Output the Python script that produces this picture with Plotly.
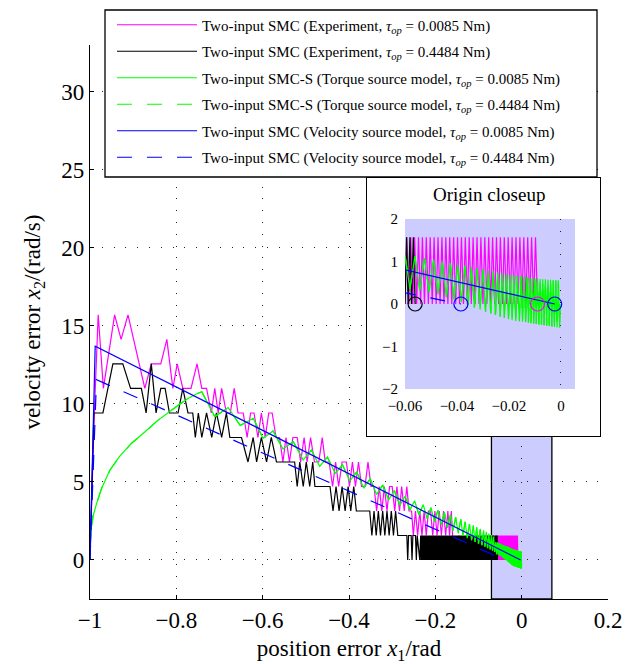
import plotly.graph_objects as go

# ---------------- data ----------------
# Experiment, tau_op = 0.0085 Nm  (magenta)
MAGENTA = [
    (-1.000, 0.00), (-0.990, 9.42), (-0.981, 15.71), (-0.969, 11.00), (-0.943, 15.71), (-0.928, 14.14),
    (-0.912, 15.71), (-0.873, 11.00), (-0.858, 12.57), (-0.836, 12.57), (-0.822, 14.14), (-0.808, 11.00),
    (-0.798, 12.57), (-0.785, 11.00), (-0.766, 11.00), (-0.752, 12.57), (-0.741, 11.00),
    (-0.730, 11.00), (-0.719, 9.42), (-0.711, 11.00), (-0.703, 9.42), (-0.695, 11.00), (-0.684, 9.42),
    (-0.675, 9.42), (-0.666, 11.00), (-0.657, 9.42),
    (-0.645, 9.42), (-0.636, 7.85), (-0.628, 9.42), (-0.620, 9.42), (-0.611, 7.85), (-0.603, 9.42),
    (-0.594, 7.85), (-0.586, 9.42), (-0.578, 9.42), (-0.569, 7.85), (-0.561, 7.85),
    (-0.553, 6.28), (-0.546, 7.85), (-0.538, 6.28), (-0.530, 7.85), (-0.520, 7.85), (-0.512, 6.28),
    (-0.504, 7.85), (-0.497, 6.28), (-0.489, 7.85), (-0.480, 6.28), (-0.470, 6.28), (-0.462, 7.85), (-0.455, 6.28),
    (-0.446, 6.28), (-0.438, 4.71), (-0.431, 6.28), (-0.424, 4.71), (-0.416, 6.28), (-0.406, 6.28),
    (-0.399, 4.71), (-0.392, 6.28), (-0.385, 4.71), (-0.378, 6.28), (-0.371, 4.71), (-0.363, 4.71),
    (-0.356, 6.28), (-0.349, 4.71), (-0.342, 4.71),
    (-0.336, 3.14), (-0.330, 4.71), (-0.324, 3.14), (-0.318, 4.71), (-0.312, 3.14), (-0.306, 4.71),
    (-0.300, 4.71), (-0.294, 3.14), (-0.289, 4.71), (-0.283, 3.14), (-0.278, 4.71), (-0.272, 3.14),
    (-0.266, 4.71), (-0.261, 3.14), (-0.255, 3.14),
    (-0.251, 1.57), (-0.246, 3.14), (-0.241, 1.57), (-0.236, 3.14), (-0.231, 1.57), (-0.226, 3.14),
    (-0.221, 1.57), (-0.216, 3.14), (-0.211, 3.14), (-0.206, 1.57), (-0.201, 3.14), (-0.196, 1.57),
    (-0.191, 3.14), (-0.186, 1.57), (-0.181, 3.14), (-0.176, 1.57), (-0.171, 3.14), (-0.167, 1.57),
    (-0.163, 3.14), (-0.160, 1.57),
    (-0.155, 0.00), (-0.145, 1.57), (-0.135, 0.00), (-0.125, 1.57), (-0.115, 0.00), (-0.105, 1.57),
    (-0.095, 0.00), (-0.085, 1.57), (-0.075, 0.00), (-0.065, 1.57),
    (-0.0600, 0), (-0.0593, 1.57), (-0.0585, 0), (-0.0578, 1.57), (-0.0570, 0), (-0.0563, 1.57),
    (-0.0555, 0), (-0.0548, 1.57), (-0.0540, 0), (-0.0533, 1.57), (-0.0525, 0), (-0.0518, 1.57),
    (-0.0510, 0), (-0.0503, 1.57), (-0.0495, 0), (-0.0488, 1.57), (-0.0480, 0), (-0.0473, 1.57),
    (-0.0465, 0), (-0.0458, 1.57), (-0.0450, 0), (-0.0443, 1.57), (-0.0435, 0), (-0.0428, 1.57),
    (-0.0420, 0), (-0.0413, 1.57), (-0.0405, 0), (-0.0398, 1.57), (-0.0390, 0), (-0.0383, 1.57),
    (-0.0375, 0), (-0.0368, 1.57), (-0.0360, 0), (-0.0353, 1.57), (-0.0345, 0), (-0.0338, 1.57),
    (-0.0330, 0), (-0.0323, 1.57), (-0.0315, 0), (-0.0308, 1.57), (-0.0300, 0), (-0.0293, 1.57),
    (-0.0285, 0), (-0.0278, 1.57), (-0.0270, 0), (-0.0263, 1.57), (-0.0255, 0), (-0.0248, 1.57),
    (-0.0240, 0), (-0.0233, 1.57), (-0.0225, 0), (-0.0218, 1.57), (-0.0210, 0), (-0.0203, 1.57),
    (-0.0195, 0), (-0.0188, 1.57), (-0.0180, 0), (-0.0173, 1.57), (-0.0165, 0), (-0.0158, 1.57),
    (-0.0150, 0), (-0.0143, 1.57), (-0.0135, 0), (-0.0128, 1.57), (-0.0120, 0), (-0.0113, 1.57),
    (-0.0105, 0), (-0.0098, 1.57), (-0.0090, 0),
]

# Experiment, tau_op = 0.4484 Nm  (black): coarse part, dense chatter block, final teeth
BLACK_HEAD = [
    (-1.000, 0.00), (-0.991, 9.42), (-0.970, 9.42), (-0.947, 12.57), (-0.924, 12.57), (-0.906, 11.00),
    (-0.881, 11.00), (-0.870, 9.42), (-0.858, 12.57), (-0.847, 9.42), (-0.836, 11.00), (-0.826, 11.00),
    (-0.816, 9.42), (-0.796, 9.42), (-0.785, 11.00), (-0.773, 9.42), (-0.762, 9.42),
    (-0.756, 7.85), (-0.749, 9.42), (-0.741, 7.85), (-0.730, 9.42), (-0.718, 7.85), (-0.707, 9.42),
    (-0.695, 7.85), (-0.684, 9.42), (-0.676, 7.85), (-0.649, 7.85),
    (-0.634, 6.28), (-0.622, 7.85), (-0.614, 6.28), (-0.603, 7.85), (-0.591, 6.28), (-0.580, 7.85),
    (-0.568, 6.28), (-0.526, 6.28),
    (-0.520, 4.71), (-0.514, 6.28), (-0.506, 4.71), (-0.499, 6.28), (-0.491, 4.71), (-0.484, 6.28),
    (-0.479, 4.71), (-0.444, 4.71),
    (-0.437, 3.14), (-0.430, 4.71), (-0.423, 3.14), (-0.416, 4.71), (-0.409, 3.14), (-0.402, 4.71),
    (-0.396, 3.14), (-0.389, 4.71), (-0.383, 3.14), (-0.352, 3.14),
    (-0.347, 1.57), (-0.342, 3.14), (-0.337, 1.57), (-0.332, 3.14), (-0.327, 1.57), (-0.322, 3.14),
    (-0.317, 1.57), (-0.312, 3.14), (-0.307, 1.57), (-0.302, 3.14), (-0.297, 1.57), (-0.292, 3.14),
    (-0.287, 1.57), (-0.266, 1.57),
    (-0.264, 0.00), (-0.262, 1.57), (-0.256, 1.57), (-0.254, 0.00), (-0.252, 1.57), (-0.246, 1.57),
    (-0.244, 0.00), (-0.242, 1.57), (-0.236, 0.00),
]
BLACK_BLOCK_X = [
    -0.23400, -0.23275, -0.23150, -0.23025, -0.22900, -0.22775, -0.22650, -0.22525,
    -0.22400, -0.22275, -0.22150, -0.22025, -0.21900, -0.21775, -0.21650, -0.21525,
    -0.21400, -0.21275, -0.21150, -0.21025, -0.20900, -0.20775, -0.20650, -0.20525,
    -0.20400, -0.20275, -0.20150, -0.20025, -0.19900, -0.19775, -0.19650, -0.19525,
    -0.19400, -0.19275, -0.19150, -0.19025, -0.18900, -0.18775, -0.18650, -0.18525,
    -0.18400, -0.18275, -0.18150, -0.18025, -0.17900, -0.17775, -0.17650, -0.17525,
    -0.17400, -0.17275, -0.17150, -0.17025, -0.16900, -0.16775, -0.16650, -0.16525,
    -0.16400, -0.16275, -0.16150, -0.16025, -0.15900, -0.15775, -0.15650, -0.15525,
    -0.15400, -0.15275, -0.15150, -0.15025, -0.14900, -0.14775, -0.14650, -0.14525,
    -0.14400, -0.14275, -0.14150, -0.14025, -0.13900, -0.13775, -0.13650, -0.13525,
    -0.13400, -0.13275, -0.13150, -0.13025, -0.12900, -0.12775, -0.12650, -0.12525,
    -0.12400, -0.12275, -0.12150, -0.12025, -0.11900, -0.11775, -0.11650, -0.11525,
    -0.11400, -0.11275, -0.11150, -0.11025, -0.10900, -0.10775, -0.10650, -0.10525,
    -0.10400, -0.10275, -0.10150, -0.10025, -0.09900, -0.09775, -0.09650, -0.09525,
    -0.09400, -0.09275, -0.09150, -0.09025, -0.08900, -0.08775, -0.08650, -0.08525,
    -0.08400, -0.08275, -0.08150, -0.08025, -0.07900, -0.07775, -0.07650, -0.07525,
    -0.07400, -0.07275, -0.07150, -0.07025, -0.06900, -0.06775, -0.06650, -0.06525,
    -0.06400, -0.06275,
]
BLACK_BLOCK_Y = [
    1.57, 0, 1.57, 0, 1.57, 0, 1.57, 0,
    1.57, 0, 1.57, 0, 1.57, 0, 1.57, 0,
    1.57, 0, 1.57, 0, 1.57, 0, 1.57, 0,
    1.57, 0, 1.57, 0, 1.57, 0, 1.57, 0,
    1.57, 0, 1.57, 0, 1.57, 0, 1.57, 0,
    1.57, 0, 1.57, 0, 1.57, 0, 1.57, 0,
    1.57, 0, 1.57, 0, 1.57, 0, 1.57, 0,
    1.57, 0, 1.57, 0, 1.57, 0, 1.57, 0,
    1.57, 0, 1.57, 0, 1.57, 0, 1.57, 0,
    1.57, 0, 1.57, 0, 1.57, 0, 1.57, 0,
    1.57, 0, 1.57, 0, 1.57, 0, 1.57, 0,
    1.57, 0, 1.57, 0, 1.57, 0, 1.57, 0,
    1.57, 0, 1.57, 0, 1.57, 0, 1.57, 0,
    1.57, 0, 1.57, 0, 1.57, 0, 1.57, 0,
    1.57, 0, 1.57, 0, 1.57, 0, 1.57, 0,
    1.57, 0, 1.57, 0, 1.57, 0, 1.57, 0,
    1.57, 0, 1.57, 0, 1.57, 0, 1.57, 0,
    1.57, 0,
]
BLACK_TAIL = [
    (-0.0607, 1.57), (-0.0600, 0), (-0.0594, 1.57), (-0.0588, 0), (-0.0581, 1.57), (-0.0575, 0),
    (-0.0568, 1.57), (-0.0561, 0),
]
BLACK = BLACK_HEAD + list(zip(BLACK_BLOCK_X, BLACK_BLOCK_Y)) + BLACK_TAIL

# Torque source model (green)
GREEN = [
    (-1.000, 0.00), (-0.9995, 1.00), (-0.997, 2.10), (-0.992, 2.90), (-0.985, 3.60), (-0.973, 4.60),
    (-0.954, 5.75), (-0.931, 6.65), (-0.903, 7.50), (-0.873, 8.20), (-0.845, 8.90), (-0.816, 9.50),
    (-0.794, 9.95), (-0.773, 10.35), (-0.755, 10.62), (-0.741, 10.78),
    (-0.711, 9.19), (-0.680, 9.77), (-0.652, 8.62), (-0.622, 9.08), (-0.599, 7.80), (-0.576, 8.27),
    (-0.553, 7.12), (-0.529, 7.58), (-0.506, 6.41), (-0.487, 7.05), (-0.468, 6.00), (-0.450, 6.60),
    (-0.432, 5.55), (-0.415, 6.10), (-0.398, 5.05), (-0.382, 5.65), (-0.366, 4.60), (-0.351, 5.20),
    (-0.336, 4.20), (-0.322, 4.80), (-0.308, 3.85), (-0.295, 4.45), (-0.282, 3.50), (-0.270, 4.10),
    (-0.259, 3.20), (-0.248, 3.80), (-0.238, 2.90), (-0.228, 3.55), (-0.219, 2.65), (-0.210, 3.35),
    (-0.202, 2.45), (-0.194, 3.20), (-0.186, 2.25), (-0.179, 3.05), (-0.172, 2.05), (-0.165, 2.90),
    (-0.159, 1.85), (-0.153, 2.75), (-0.147, 1.70), (-0.141, 2.60), (-0.136, 1.55), (-0.131, 2.45),
    (-0.126, 1.40), (-0.121, 2.30), (-0.116, 1.25), (-0.112, 2.20), (-0.108, 1.15), (-0.104, 2.10),
    (-0.100, 1.05), (-0.096, 2.00), (-0.092, 0.95), (-0.088, 1.90), (-0.085, 0.85), (-0.082, 1.80),
    (-0.079, 0.75), (-0.076, 1.70), (-0.073, 0.68), (-0.070, 1.60), (-0.0675, 0.60), (-0.065, 1.50),
    (-0.0625, 0.52),
    (-0.0600, 1.15), (-0.0581, 0.35), (-0.0562, 1.12), (-0.0543, 0.32), (-0.0525, 1.08), (-0.0507, 0.28),
    (-0.0490, 1.04), (-0.0473, 0.22), (-0.0457, 1.00), (-0.0441, 0.16), (-0.0426, 0.96), (-0.0411, 0.10),
    (-0.0397, 0.93), (-0.0383, 0.04), (-0.0370, 0.90), (-0.0357, -0.02), (-0.0345, 0.87), (-0.0333, -0.08),
    (-0.0322, 0.84), (-0.0311, -0.13), (-0.0300, 0.81), (-0.0290, -0.18), (-0.0280, 0.79), (-0.0270, -0.22),
    (-0.0261, 0.77), (-0.0252, -0.26), (-0.0243, 0.74), (-0.0234, -0.30), (-0.0226, 0.72), (-0.0218, -0.33),
    (-0.0210, 0.70), (-0.0202, -0.36), (-0.0195, 0.68), (-0.0188, -0.38), (-0.0181, 0.67), (-0.0174, -0.40),
    (-0.0167, 0.66), (-0.0160, -0.41), (-0.0154, 0.65), (-0.0148, -0.42), (-0.0142, 0.64), (-0.0136, -0.43),
    (-0.0130, 0.63), (-0.0125, -0.44), (-0.0120, 0.62), (-0.0115, -0.45), (-0.0110, 0.61), (-0.0105, -0.46),
    (-0.0100, 0.60), (-0.0095, -0.47), (-0.0090, 0.60), (-0.0085, -0.48), (-0.0080, 0.59), (-0.0075, -0.49),
    (-0.0070, 0.58), (-0.0065, -0.50), (-0.0060, 0.58), (-0.0055, -0.51), (-0.0050, 0.57), (-0.0045, -0.52),
    (-0.0040, 0.57), (-0.0035, -0.53), (-0.0030, 0.56), (-0.0025, -0.54), (-0.0020, 0.56), (-0.0015, -0.55),
    (-0.0010, 0.55), (-0.0005, -0.56), (-0.0003, 0.00),
]
# tau_op = 0.4484 Nm torque-source run coincides with the 0.0085 Nm run in the picture
GREEN_DASH = GREEN

# Velocity source model (blue)
BLUE = [(-1.000, 0.00), (-0.988, 13.70), (-0.0024, 0.00)]
BLUE_DASH = [(-1.000, 0.00), (-0.985, 11.55), (-0.0385, 0.00)]

NAMES = [
    "Two-input SMC (Experiment, <i>τ<sub>op</sub></i> = 0.0085 Nm)",
    "Two-input SMC (Experiment, <i>τ<sub>op</sub></i> = 0.4484 Nm)",
    "Two-input SMC-S (Torque source model, <i>τ<sub>op</sub></i> = 0.0085 Nm)",
    "Two-input SMC-S (Torque source model, <i>τ<sub>op</sub></i> = 0.4484 Nm)",
    "Two-input SMC (Velocity source model, <i>τ<sub>op</sub></i> = 0.0085 Nm)",
    "Two-input SMC (Velocity source model, <i>τ<sub>op</sub></i> = 0.4484 Nm)",
]
SERIES = [MAGENTA, BLACK, GREEN, GREEN_DASH, BLUE, BLUE_DASH]
COLORS = ["#ff00ff", "#000000", "#00ff00", "#00ff00", "#0000ff", "#0000ff"]
DASHES = ["solid", "solid", "solid", "15px,15px", "solid", "15px,15px"]
END_MARKED = [True, True, False, False, True, True]

X_TICKS = [-1, -0.8, -0.6, -0.4, -0.2, 0, 0.2]
Y_TICKS = [0, 5, 10, 15, 20, 25, 30]
INSET_X_TICKS = [-0.06, -0.04, -0.02, 0]
INSET_Y_TICKS = [-2, -1, 0, 1, 2]
ZOOM_BOX_X = [-0.07, 0.07]

FONT = "Liberation Serif"
LAV = "#ccccff"

# ---------------- layout geometry (px) ----------------
W, H = 627, 664
ML, MR, MT, MB = 90, 19, 45, 65
PW, PH = W - ML - MR, H - MT - MB


def px_x(p):
    return (p - ML) / PW


def px_y(p):
    return (H - MB - p) / PH


fig = go.Figure()

for i, (pts, col, dsh, name) in enumerate(zip(SERIES, COLORS, DASHES, NAMES)):
    xs = [p[0] for p in pts]
    ys = [p[1] for p in pts]
    fig.add_trace(go.Scatter(x=xs, y=ys, mode="lines", name=name,
                             line=dict(color=col, width=1.2, dash=dsh, simplify=False),
                             legendgroup=f"g{i}", xaxis="x", yaxis="y", hoverinfo="skip"))

# empty trace that creates the white framed panel holding the close-up
fig.add_trace(go.Scatter(x=[], y=[], mode="lines", showlegend=False, xaxis="x2", yaxis="y2",
                         hoverinfo="skip"))

for i, (pts, col, dsh) in enumerate(zip(SERIES, COLORS, DASHES)):
    xs = [p[0] for p in pts]
    ys = [p[1] for p in pts]
    fig.add_trace(go.Scatter(x=xs, y=ys, mode="lines", showlegend=False,
                             line=dict(color=col, width=1.2, dash=dsh, simplify=False),
                             legendgroup=f"g{i}", xaxis="x3", yaxis="y3", hoverinfo="skip"))
for i, (pts, col) in enumerate(zip(SERIES, COLORS)):
    if END_MARKED[i]:
        fig.add_trace(go.Scatter(x=[pts[-1][0]], y=[pts[-1][1]], mode="markers", showlegend=False,
                                 marker=dict(symbol="circle-open", size=14, color=col,
                                             line=dict(color=col, width=1.2)),
                                 legendgroup=f"g{i}", xaxis="x3", yaxis="y3", hoverinfo="skip"))

grid = dict(showgrid=True, gridcolor="#222222", gridwidth=1, griddash="1px,10.8px")

fig.update_layout(
    width=W, height=H,
    margin=dict(l=ML, r=MR, t=MT, b=MB, autoexpand=False),
    paper_bgcolor="white", plot_bgcolor="white",
    font=dict(family=FONT, color="black"),
    showlegend=True,
    legend=dict(x=px_x(112), y=px_y(8.5), xanchor="left", yanchor="top",
                bgcolor="rgba(0,0,0,0)", borderwidth=0,
                font=dict(family=FONT, size=15, color="black"),
                traceorder="grouped", tracegroupgap=4, itemwidth=80),
    xaxis=dict(domain=[0, 1], range=[-1, 0.2], tickvals=X_TICKS, zeroline=False,
               showline=True, linecolor="black", linewidth=1.2, ticks="inside", ticklen=4,
               tickcolor="black", tickfont=dict(size=23), anchor="y",
               title=dict(text="position error <i>x</i><sub>1</sub>/rad", font=dict(size=23), standoff=8),
               **grid),
    yaxis=dict(domain=[0, 1], range=[-2.5, 33], tickvals=Y_TICKS, zeroline=False,
               showline=True, linecolor="black", linewidth=1.2, ticks="inside", ticklen=4,
               tickcolor="black", tickfont=dict(size=23), anchor="x",
               title=dict(text="velocity error <i>x</i><sub>2</sub>/(rad/s)", font=dict(size=23), standoff=14),
               **grid),
    xaxis2=dict(domain=[px_x(366.7), px_x(600)], range=[0, 1], anchor="y2", showline=True, mirror=True,
                linecolor="black", linewidth=1.3, showticklabels=False, ticks="", showgrid=False,
                zeroline=False, fixedrange=True),
    yaxis2=dict(domain=[px_y(436), px_y(178)], range=[0, 1], anchor="x2", showline=True, mirror=True,
                linecolor="black", linewidth=1.3, showticklabels=False, ticks="", showgrid=False,
                zeroline=False, fixedrange=True),
    xaxis3=dict(domain=[px_x(405), px_x(575)], range=[-0.06, 0.0054], anchor="y3",
                tickvals=INSET_X_TICKS, ticks="", ticklabelstandoff=6, tickfont=dict(size=15),
                showgrid=False, zeroline=False, showline=False,
                minor=dict(tickmode="array", tickvals=[0], showgrid=True, gridcolor="#222222",
                           gridwidth=1, griddash="1px,10.8px", ticks="")),
    yaxis3=dict(domain=[px_y(389), px_y(219)], range=[-2, 2], anchor="x3",
                tickvals=INSET_Y_TICKS, ticks="", ticklabelstandoff=6, tickfont=dict(size=15),
                showgrid=False, zeroline=False, showline=False),
    shapes=[
        dict(type="rect", xref="x", yref="y", x0=ZOOM_BOX_X[0], x1=ZOOM_BOX_X[1], y0=-2.5, y1=12,
             fillcolor=LAV, line=dict(color="black", width=1.3), layer="below"),
        dict(type="rect", xref="x3", yref="y3", x0=-0.06, x1=0.0054, y0=-2, y1=2,
             fillcolor=LAV, line=dict(width=0), layer="below"),
        dict(type="rect", xref="paper", yref="paper", x0=px_x(105), x1=px_x(597),
             y0=px_y(177), y1=px_y(10), fillcolor="white",
             line=dict(color="black", width=1.3), layer="above"),
    ],
    annotations=[
        dict(text="Origin closeup", xref="paper", yref="paper", x=px_x(489), y=px_y(194),
             showarrow=False, font=dict(size=19, family=FONT), xanchor="center", yanchor="middle"),
    ],
)

fig.write_html("out.html")
